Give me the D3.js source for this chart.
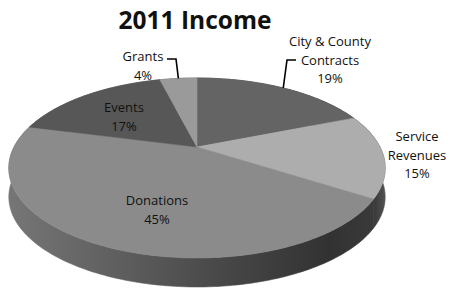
<!DOCTYPE html>
<html>
<head>
<meta charset="utf-8">
<script src="https://cdn.jsdelivr.net/npm/d3@7"></script>
<style>
  body { margin: 0; background: #fff; }
  text { font-family: "Open Sans", sans-serif; fill: #111; }
</style>
</head>
<body>
<div id="chart"></div>
<script>
// data, clockwise from 12 o'clock
const categories = ["City & County Contracts", "Service Revenues", "Donations", "Events", "Grants"];
const values = [19, 15, 45, 17, 4];
const labelLines = [["City & County", "Contracts"], ["Service", "Revenues"], ["Donations"], ["Events"], ["Grants"]];
const topColors = ["#646464", "#adadad", "#8b8b8b", "#575757", "#9a9a9a"];

// label anchors (centre x, first baseline y) and leader lines
const labelPos = [[330, 46], [417, 141], [157, 205], [124, 112], [143, 61]];
const leaders = { 0: [[296, 60], [287, 60]], 4: [[167, 59], [176, 59]] };

const width = 453, height = 297;
const cx = 197, cy = 147, sx = 183, sy = 85.1, k = 0.233, depth = 29;

// perspective projection of a point on the unit rim (angle clockwise from top)
function proj(a, r, dz) {
  let X = r * Math.sin(a), Z = r * Math.cos(a);
  let w = 1 + k * Z;
  return [cx + sx * X / w, cy - sy * Z / w + (dz || 0)];
}
function rim(a0, a1, dz) {
  let n = Math.max(2, Math.ceil(Math.abs(a1 - a0) / 0.02));
  return d3.range(n + 1).map(i => proj(a0 + (a1 - a0) * i / n, 1, dz));
}

let svg = d3.select("#chart").append("svg")
  .attr("width", width).attr("height", height);

let defs = svg.append("defs");
let wallGrad = defs.append("linearGradient")
  .attr("id", "wall").attr("gradientUnits", "userSpaceOnUse")
  .attr("x1", 8).attr("x2", 386).attr("y1", 0).attr("y2", 0);
[[0, "#767676"], [0.3, "#5e5e5e"], [0.6, "#454545"], [0.85, "#323232"], [0.97, "#3a3a3a"], [1, "#555"]]
  .forEach(s => wallGrad.append("stop").attr("offset", s[0]).attr("stop-color", s[1]));

let pie = d3.pie().sort(null).value(d => d);
let arcs = pie(values);
let line = d3.line();

// side walls (drawn first, top faces cover the back part)
svg.append("g").selectAll("path")
  .data(arcs)
  .enter().append("path")
  .attr("d", d => {
    let top = rim(d.startAngle, d.endAngle, 0);
    let bot = rim(d.endAngle, d.startAngle, depth);
    return line(top.concat(bot)) + "Z";
  })
  .attr("fill", "url(#wall)")
  .attr("stroke", "url(#wall)")
  .attr("stroke-width", 0.6);

// top faces
svg.append("g").selectAll("path")
  .data(arcs)
  .enter().append("path")
  .attr("d", d => line([[cx, cy]].concat(rim(d.startAngle, d.endAngle, 0))) + "Z")
  .attr("fill", (d, i) => topColors[i])
  .attr("stroke", (d, i) => topColors[i])
  .attr("stroke-width", 0.6);

// leader lines: from label corner to rim at mid angle
Object.keys(leaders).forEach(i => {
  let d = arcs[i];
  let mid = (d.startAngle + d.endAngle) / 2;
  let pts = leaders[i].concat([proj(mid, 1, 0)]);
  svg.append("path")
    .attr("d", line(pts))
    .attr("fill", "none")
    .attr("stroke", "#000")
    .attr("stroke-width", 1.6);
});

// data labels
let labels = svg.append("g").attr("font-size", 13).attr("text-anchor", "middle");
arcs.forEach((d, i) => {
  let t = labels.append("text")
    .attr("x", labelPos[i][0]).attr("y", labelPos[i][1]);
  labelLines[i].concat([d3.format(".0%")(d.value / d3.sum(values))]).forEach((s, j) => {
    t.append("tspan").attr("x", labelPos[i][0]).attr("dy", j ? 18.5 : 0).text(s);
  });
});

// title
svg.append("text")
  .attr("x", 195).attr("y", 29)
  .attr("text-anchor", "middle")
  .attr("font-size", 24.5)
  .attr("font-weight", "bold")
  .text("2011 Income");
</script>
</body>
</html>
